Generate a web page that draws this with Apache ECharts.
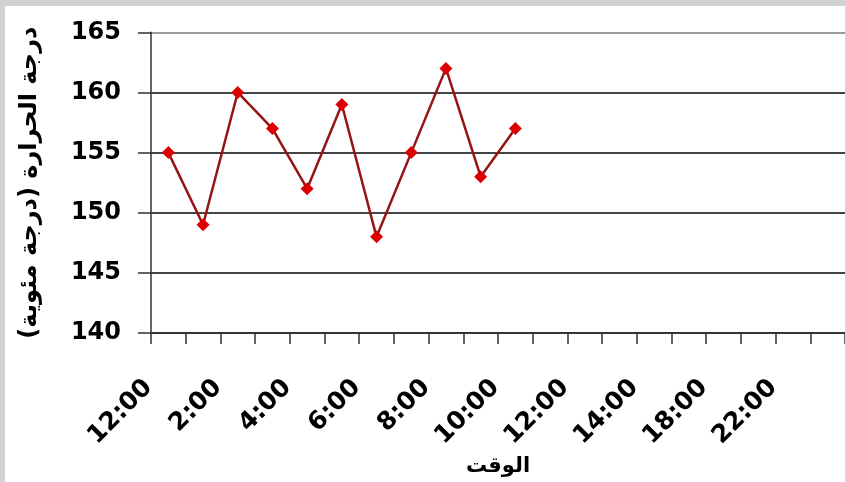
<!DOCTYPE html>
<html><head><meta charset="utf-8">
<script src="https://cdn.jsdelivr.net/npm/echarts@6/dist/echarts.min.js"></script>
<style>html,body{margin:0;padding:0;background:#d2d2d2;}#c{width:845px;height:482px;}</style>
</head><body><div id="c"></div>
<script>
// Data
const tickLabels = ['12:00','2:00','4:00','6:00','8:00','10:00','12:00','14:00','18:00','22:00'];
const temps = [155,149,160,157,152,159,148,155,162,153,157];
const yTicks = [140,145,150,155,160,165];
const yTitle = 'درجة الحرارة (درجة مئوية)';
const xTitle = 'الوقت';

// 20 category slots: labelled slot every other position
const categories = [];
tickLabels.forEach(function(l){ categories.push(l); categories.push(l + ' '); });

const chart = echarts.init(document.getElementById('c'));
chart.setOption({
  backgroundColor: '#d2d2d2',
  animation: false,
  graphic: [{type:'rect', z:-10, shape:{x:5,y:6,width:845,height:482}, style:{fill:'#ffffff'}}],
  grid: {left:151, top:32.3, width:699, height:309.4, containLabel:false},
  xAxis: {
    type:'category', data: categories, boundaryGap:true,
    axisLine:{lineStyle:{color:'#333', width:1.5}},
    axisTick:{show:true, interval:0, length:11, lineStyle:{color:'#333', width:1.5}},
    axisLabel:{interval:1, rotate:45, margin:31, padding:[0,28,0,0], color:'#000',
      fontFamily:'DejaVu Sans', fontWeight:'bold', fontSize:25,
      formatter:function(v){return v.trim();}},
    name: xTitle, nameLocation:'middle', nameGap:117,
    nameTextStyle:{fontFamily:'DejaVu Sans', fontWeight:'bold', fontSize:21, color:'#000'}
  },
  yAxis: {
    type:'value', min:yTicks[0], max:yTicks[yTicks.length-1], interval:5,
    axisLine:{show:true, lineStyle:{color:'#333', width:1.5}},
    axisTick:{show:true, length:13, lineStyle:{color:'#333', width:1.5}},
    axisLabel:{margin:30, color:'#000', fontFamily:'DejaVu Sans', fontWeight:'bold', fontSize:24,
      padding:[0,0,4,0]},
    splitLine:{show:true, lineStyle:{color:['#444','#444','#444','#444','#444','#999'], width:2}},
    name: yTitle, nameLocation:'middle', nameRotate:90, nameGap:109,
    nameTextStyle:{fontFamily:'DejaVu Sans', fontWeight:'bold', fontSize:24, color:'#000'}
  },
  series: [{
    type:'line', data: temps,
    symbol:'diamond', symbolSize:13,
    lineStyle:{color:'#951414', width:2.5},
    itemStyle:{color:'#dd0000'}
  }]
});
</script></body></html>
